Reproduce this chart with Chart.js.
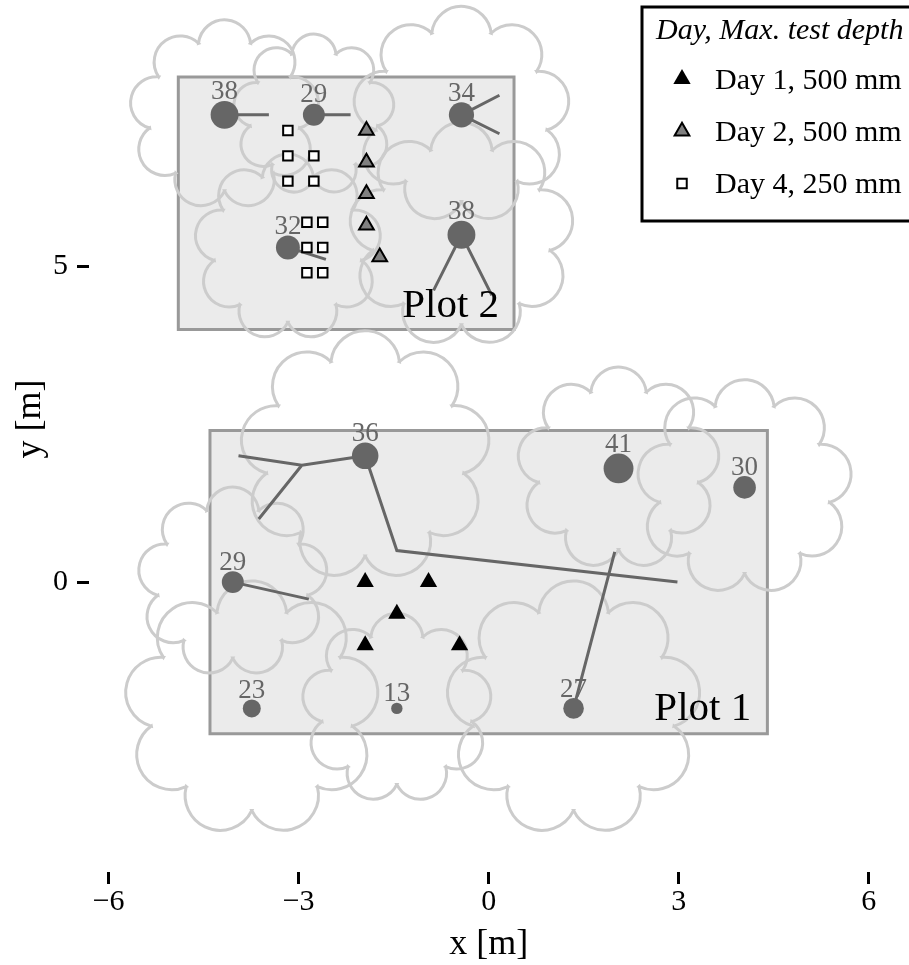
<!DOCTYPE html>
<html>
<head>
<meta charset="utf-8">
<title>Plots</title>
<script src="https://cdn.jsdelivr.net/npm/chart.js@4/dist/chart.umd.min.js"></script>
<style>
  html, body { margin: 0; padding: 0; background: #fff; }
  canvas { display: block; }
</style>
</head>
<body>
<canvas id="plotChart" width="909" height="965"></canvas>
<script>
// trees, stem diameter is the number printed above each one
const treeX = [-1.95, -4.04, -3.74, -1.45, 1.34, 2.05, 4.04, -4.17, -2.76, -0.43, -0.43, -3.17];
const treeY = [2, 0, -2, -2, -2, 1.8, 1.5, 7.4, 7.4, 7.4, 5.5, 5.3];
const treeDiam = [36, 29, 23, 13, 27, 41, 30, 38, 29, 34, 38, 32];
const crownRadius = [1.58, 1.2, 1.61, 1.2, 1.61, 1.28, 1.36, 1.2, 1.02, 1.37, 1.42, 1.18];

// roots, null splits the polylines
const rootX = [-1.95, -2.95, -3.95, null, -2.95, -3.63, null, -1.95, -1.45, 2.98, null, -4.04, -2.84, null, 1.34, 1.99, null,
  -4.17, -3.47, null, -2.76, -2.18, null, -0.43, 0.17, null, -0.43, 0.17, null, -0.43, -0.87, null, -0.43, 0.05, null, -3.17, -2.57];
const rootY = [2, 1.85, 2, null, 1.85, 1, null, 2, 0.5, 0, null, 0, -0.27, null, -2, 0.48, null,
  7.4, 7.4, null, 7.4, 7.4, null, 7.4, 7.71, null, 7.4, 7.1, null, 5.5, 4.62, null, 5.5, 4.54, null, 5.3, 5.11];

// test points
const day1X = [-1.95, -0.95, -1.45, -1.95, -0.46];
const day1Y = [0, 0, -0.5, -1, -1];
const day2X = [-1.93, -1.93, -1.93, -1.93, -1.72];
const day2Y = [7.15, 6.65, 6.15, 5.65, 5.15];
const day4X = [-3.17, -3.17, -2.76, -3.17, -2.76, -2.87, -2.62, -2.87, -2.62, -2.87, -2.62];
const day4Y = [7.15, 6.75, 6.75, 6.35, 6.35, 5.7, 5.7, 5.3, 5.3, 4.9, 4.9];

// plot outlines
const plotNames = ['Plot 1', 'Plot 2'];
const plotLeft = [-4.4, -4.9];
const plotRight = [4.4, 0.4];
const plotBottom = [-2.4, 4];
const plotTop = [2.4, 8];
const plotLabelX = [3.38, -0.6];
const plotLabelY = [-2.02, 4.375];

const xTicks = [-6, -3, 0, 3, 6];
const yTicks = [0, 5];
const xTitle = 'x [m]';
const yTitle = 'y [m]';
const legendTitle = 'Day, Max. test depth';
const legendLabels = ['Day 1, 500 mm', 'Day 2, 500 mm', 'Day 4, 250 mm'];

const serif = '"Liberation Serif", "Times New Roman", serif';
const toPoints = (xs, ys) => xs.map((x, i) => ({ x, y: ys[i] }));
const stemRadius = d => 0.33 * d + 1.4;

const fillSets = plotNames.map((name, i) => ({
  label: name + ' fill',
  data: [{ x: plotLeft[i], y: plotTop[i] }, { x: plotRight[i], y: plotTop[i] }],
  showLine: true,
  pointRadius: 0,
  borderWidth: 0,
  backgroundColor: '#ebebeb',
  fill: { target: { value: plotBottom[i] } },
  order: 20
}));

const borderSets = plotNames.map((name, i) => ({
  label: name,
  data: [
    { x: plotLeft[i], y: plotBottom[i] }, { x: plotLeft[i], y: plotTop[i] },
    { x: plotRight[i], y: plotTop[i] }, { x: plotRight[i], y: plotBottom[i] },
    { x: plotLeft[i], y: plotBottom[i] }
  ],
  showLine: true,
  pointRadius: 0,
  borderColor: '#999999',
  borderWidth: 3,
  borderCapStyle: 'square',
  borderJoinStyle: 'miter',
  order: 10
}));

// crown outlines are 9 lobes around the tree with one cusp straight down
const crownPlugin = {
  id: 'crowns',
  afterDatasetDraw(chart, args) {
    if (chart.data.datasets[args.index].label !== 'Plot 1') return;
    const { ctx, scales } = chart;
    const pxPerM = scales.x.getPixelForValue(1) - scales.x.getPixelForValue(0);
    ctx.save();
    ctx.strokeStyle = '#cccccc';
    ctx.lineWidth = 3;
    treeX.forEach((x, i) => {
      const cx = scales.x.getPixelForValue(x);
      const cy = scales.y.getPixelForValue(treeY[i]);
      const R = crownRadius[i] * pxPerM;
      ctx.beginPath();
      for (let k = 0; k < 9; k++) {
        const a0 = Math.PI / 2 + k * 2 * Math.PI / 9;
        const a1 = a0 + 2 * Math.PI / 9;
        const mid = (a0 + a1) / 2;
        const lx = cx + 0.906 * R * Math.cos(mid);
        const ly = cy + 0.906 * R * Math.sin(mid);
        const start = Math.atan2(cy + R * Math.sin(a0) - ly, cx + R * Math.cos(a0) - lx);
        const end = Math.atan2(cy + R * Math.sin(a1) - ly, cx + R * Math.cos(a1) - lx);
        ctx.arc(lx, ly, 0.344 * R, start, end);
      }
      ctx.closePath();
      ctx.stroke();
    });
    ctx.restore();
  }
};

const labelPlugin = {
  id: 'labels',
  afterDatasetsDraw(chart) {
    const { ctx, scales } = chart;
    ctx.save();
    ctx.textAlign = 'center';
    ctx.textBaseline = 'alphabetic';
    ctx.fillStyle = '#666666';
    ctx.font = '27px ' + serif;
    treeX.forEach((x, i) => {
      const px = scales.x.getPixelForValue(x);
      const py = scales.y.getPixelForValue(treeY[i]) - stemRadius(treeDiam[i]) - 1.5;
      ctx.fillText(String(treeDiam[i]), px, py);
    });
    ctx.fillStyle = '#000';
    ctx.font = '41px ' + serif;
    ctx.textBaseline = 'middle';
    plotNames.forEach((name, i) => {
      ctx.fillText(name, scales.x.getPixelForValue(plotLabelX[i]), scales.y.getPixelForValue(plotLabelY[i]));
    });
    // axis titles sit off the centre of the chart area, so they go here
    ctx.font = '36px ' + serif;
    ctx.fillText(xTitle, scales.x.getPixelForValue(0), 945);
    ctx.translate(31, 419);
    ctx.rotate(-Math.PI / 2);
    ctx.fillText(yTitle, 0, 0);
    ctx.restore();
  }
};

const legendPlugin = {
  id: 'boxLegend',
  afterDraw(chart) {
    const { ctx } = chart;
    const markers = [
      { pointStyle: 'triangle', radius: 10, fill: '#000', width: 0 },
      { pointStyle: 'triangle', radius: 8.5, fill: '#808080', width: 2 },
      { pointStyle: 'rect', radius: 6.7, fill: '#fff', width: 2 }
    ];
    ctx.save();
    ctx.fillStyle = '#fff';
    ctx.fillRect(642, 7, 280, 214);
    ctx.strokeStyle = '#000';
    ctx.lineWidth = 3;
    ctx.strokeRect(642, 7, 280, 214);
    ctx.fillStyle = '#000';
    ctx.textAlign = 'left';
    ctx.textBaseline = 'alphabetic';
    ctx.font = 'italic 30px ' + serif;
    ctx.fillText(legendTitle, 656, 39);
    ctx.font = '30px ' + serif;
    legendLabels.forEach((label, i) => {
      const y = 77.5 + i * 52.2;
      ctx.fillStyle = '#000';
      ctx.fillText(label, 715, y + 11);
      ctx.fillStyle = markers[i].fill;
      ctx.strokeStyle = '#000';
      ctx.lineWidth = markers[i].width;
      Chart.helpers.drawPoint(ctx, {
        pointStyle: markers[i].pointStyle,
        radius: markers[i].radius,
        borderWidth: markers[i].width,
        rotation: 0
      }, 682, y + 1.5);
    });
    ctx.restore();
  }
};

new Chart(document.getElementById('plotChart'), {
  type: 'scatter',
  data: {
    datasets: [
      ...fillSets,
      ...borderSets,
      { label: 'Roots', data: toPoints(rootX, rootY), showLine: true, spanGaps: false, pointRadius: 0, borderColor: '#666666', borderWidth: 3, order: 5 },
      {
        label: 'Trees',
        data: toPoints(treeX, treeY),
        pointRadius: ctx => stemRadius(treeDiam[ctx.dataIndex]),
        pointBackgroundColor: '#666666',
        pointBorderWidth: 0,
        order: 4
      },
      { label: 'Day 1', data: toPoints(day1X, day1Y), pointStyle: 'triangle', pointRadius: 10, pointBackgroundColor: '#000', pointBorderWidth: 0, order: 3 },
      { label: 'Day 2', data: toPoints(day2X, day2Y), pointStyle: 'triangle', pointRadius: 8.5, pointBackgroundColor: '#808080', pointBorderColor: '#000', pointBorderWidth: 2, order: 2 },
      { label: 'Day 4', data: toPoints(day4X, day4Y), pointStyle: 'rect', pointRadius: 6.7, pointBackgroundColor: '#fff', pointBorderColor: '#000', pointBorderWidth: 2, order: 1 }
    ]
  },
  options: {
    responsive: false,
    animation: false,
    events: [],
    layout: { padding: 0 },
    plugins: { legend: { display: false }, tooltip: { enabled: false } },
    scales: {
      x: {
        type: 'linear',
        min: -6.31,
        max: 6.4,
        border: { display: false },
        grid: { drawOnChartArea: false, tickLength: 12, tickWidth: 3, tickColor: '#000' },
        afterBuildTicks: axis => { axis.ticks = xTicks.map(value => ({ value })); },
        afterFit: axis => { axis.height = 93; axis.paddingLeft = 0; axis.paddingRight = 0; },
        ticks: {
          color: '#000',
          padding: 0,
          maxRotation: 0,
          font: { family: serif, size: 30 },
          callback: v => String(v).replace('-', '\u2212')
        }
      },
      y: {
        type: 'linear',
        min: -4.591,
        max: 8.982,
        border: { display: false },
        grid: { drawOnChartArea: false, tickLength: 12, tickWidth: 3, tickColor: '#000' },
        afterBuildTicks: axis => { axis.ticks = yTicks.map(value => ({ value })); },
        afterFit: axis => { axis.width = 89; axis.paddingTop = 0; axis.paddingBottom = 0; },
        ticks: {
          color: '#000',
          padding: 9,
          font: { family: serif, size: 30 },
          callback: v => String(v)
        }
      }
    }
  },
  plugins: [crownPlugin, labelPlugin, legendPlugin]
});
</script>
</body>
</html>
